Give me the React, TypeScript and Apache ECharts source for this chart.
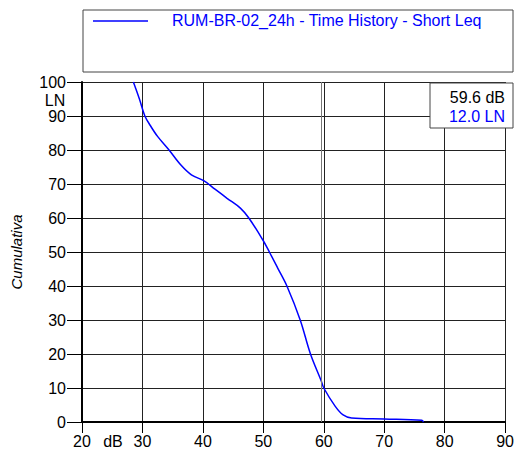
import React, { useEffect, useRef } from "react";
import * as echarts from "echarts";

const dbValues = [28.5, 29.5, 30.4, 31.3, 32.5, 34.4, 36.4, 38.1, 40.2, 42.0, 44.0, 46.2, 47.6, 49.9, 51.0, 52.4, 53.9, 56.1, 57.8, 59.6, 60.0, 61.9, 63.2, 64.6, 70.0, 76.2, 76.5];
const lnValues = [100, 95, 90, 87.2, 84, 80, 75.5, 72.7, 70.9, 68.5, 65.8, 62.9, 60, 53.6, 50, 45.2, 40, 30, 20, 12.0, 10, 4.6, 2.1, 1.2, 0.9, 0.5, 0];
const seriesName = "RUM-BR-02_24h - Time History - Short Leq";
const cursorDb = 59.6;
const cursorLn = 12.0;
const yAxisName = "Cumulativa";

const FONT = "'Liberation Sans', Arial, sans-serif";

export default function App() {
  const ref = useRef<HTMLDivElement>(null);
  useEffect(() => {
    if (!ref.current) return;
    const chart = echarts.init(ref.current, null, { renderer: "svg" });
    const data = dbValues.map((d, i) => [d, lnValues[i]]);
    chart.setOption({
      animation: false,
      backgroundColor: "#ffffff",
      textStyle: { fontFamily: FONT },
      grid: { left: 82, top: 82, width: 431, height: 340, containLabel: false },
      xAxis: {
        type: "value",
        min: 20,
        max: 90,
        interval: 10,
        axisLine: { show: true, onZero: false, lineStyle: { color: "#000", width: 2 } },
        axisTick: { show: true, length: 11, lineStyle: { color: "#000", width: 1 } },
        axisLabel: { fontSize: 16, color: "#000", margin: 11, fontFamily: FONT },
        splitLine: { show: true, lineStyle: { color: "#222", width: 1 } },
      },
      yAxis: {
        type: "value",
        min: 0,
        max: 100,
        interval: 10,
        name: yAxisName,
        nameLocation: "middle",
        nameRotate: 90,
        nameGap: 58,
        nameTextStyle: { fontSize: 15, fontStyle: "italic", color: "#000", fontFamily: FONT },
        axisLine: { show: true, lineStyle: { color: "#000", width: 2 } },
        axisTick: { show: true, length: 15, lineStyle: { color: "#000", width: 1 } },
        axisLabel: { fontSize: 16, color: "#000", margin: 16, fontFamily: FONT },
        splitLine: { show: true, lineStyle: { color: "#222", width: 1 } },
      },
      series: [
        {
          type: "line",
          name: seriesName,
          data,
          showSymbol: false,
          smooth: 0.35,
          lineStyle: { color: "#0000ff", width: 1.5 },
          markLine: {
            silent: true,
            symbol: ["none", "none"],
            label: { show: false },
            lineStyle: { color: "#777", width: 1, type: "solid" },
            data: [{ xAxis: cursorDb }],
          },
          z: 3,
        },
      ],
      graphic: [
        {
          type: "rect",
          shape: { x: 83, y: 10, width: 430, height: 62 },
          style: { fill: "#fff", stroke: "#444", lineWidth: 1 },
        },
        {
          type: "line",
          shape: { x1: 93, y1: 21, x2: 148, y2: 21 },
          style: { stroke: "#0000ff", lineWidth: 1.5 },
        },
        {
          type: "text",
          x: 172,
          y: 20,
          style: { text: seriesName, fill: "#0000ff", fontSize: 16, fontFamily: FONT, verticalAlign: "middle", align: "left" },
        },
        {
          type: "rect",
          shape: { x: 430, y: 83, width: 83, height: 45 },
          style: { fill: "#fff", stroke: "#444", lineWidth: 1 },
          z: 10,
        },
        {
          type: "text",
          x: 505,
          y: 97,
          z: 11,
          style: { text: cursorDb.toFixed(1) + " dB", fill: "#000", fontSize: 16, fontFamily: FONT, verticalAlign: "middle", align: "right" },
        },
        {
          type: "text",
          x: 505,
          y: 116,
          z: 11,
          style: { text: cursorLn.toFixed(1) + " LN", fill: "#0000ff", fontSize: 16, fontFamily: FONT, verticalAlign: "middle", align: "right" },
        },
        {
          type: "text",
          x: 55,
          y: 100,
          style: { text: "LN", fill: "#000", fontSize: 16, fontFamily: FONT, verticalAlign: "middle", align: "center" },
        },
        {
          type: "text",
          x: 113,
          y: 441,
          style: { text: "dB", fill: "#000", fontSize: 16, fontFamily: FONT, verticalAlign: "middle", align: "center" },
        },
      ],
    });
    return () => chart.dispose();
  }, []);
  return <div ref={ref} style={{ position: "fixed", left: 0, top: 0, width: 517, height: 454 }} />;
}
